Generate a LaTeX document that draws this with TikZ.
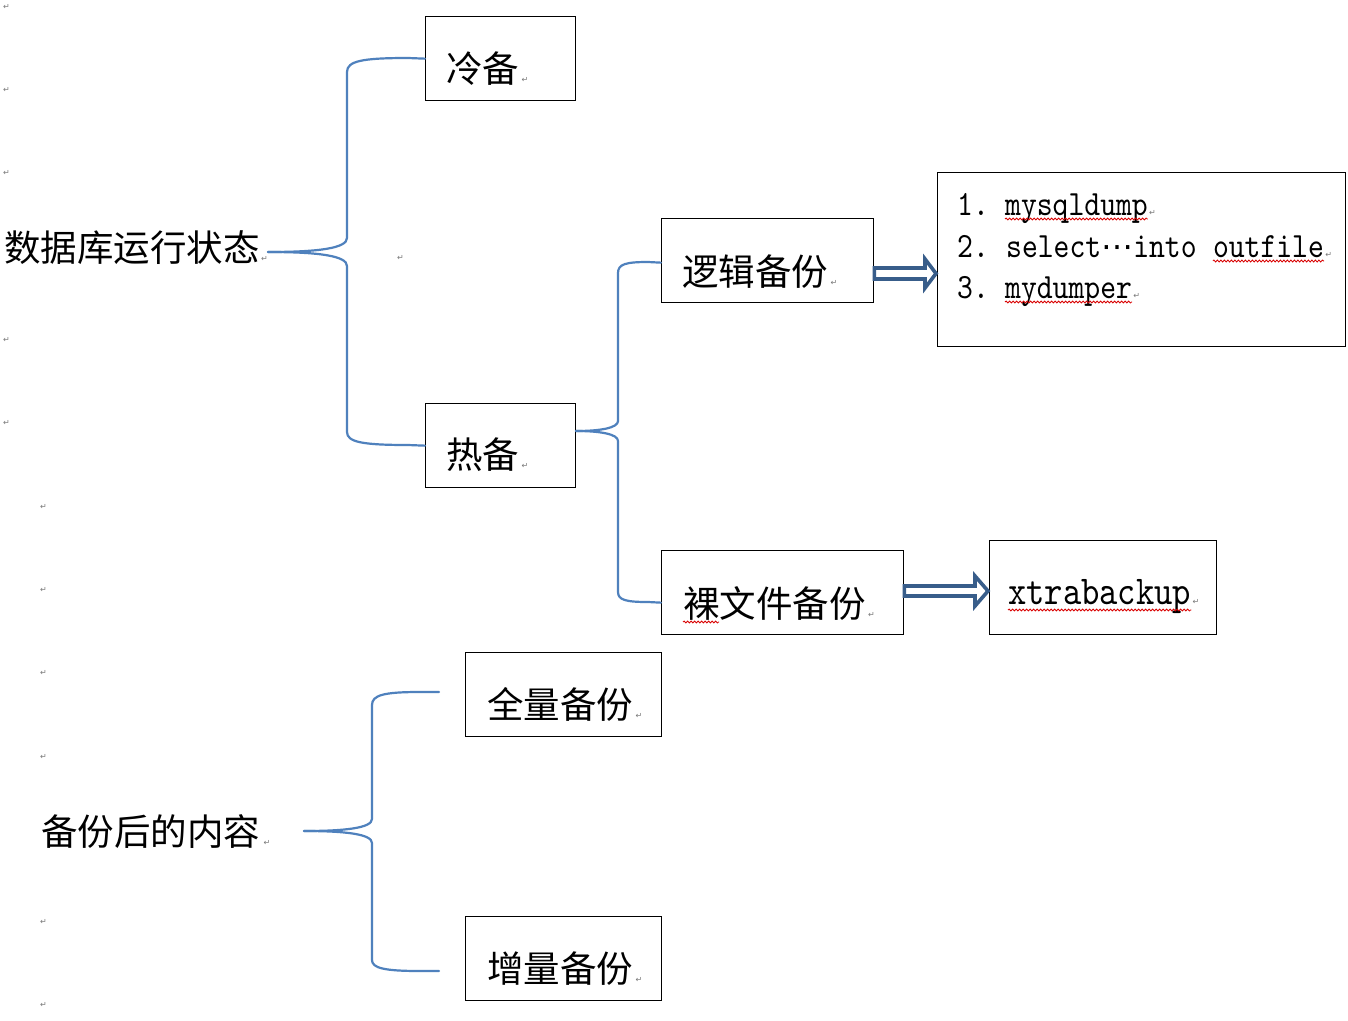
\documentclass[tikz,border=0pt]{standalone}
\usepackage{fontspec}
\newfontfamily\cjk{Noto Sans CJK SC}
\newfontfamily\djv{DejaVu Sans}
\newfontfamily\mono{lmmono10-regular}[Extension=.otf, FakeStretch=0.85]
\usetikzlibrary{calc,decorations.pathmorphing}
\definecolor{bracec}{RGB}{79,129,189}
\definecolor{arrowc}{RGB}{56,93,138}
\definecolor{pmc}{RGB}{120,120,120}
\begin{document}
\begin{tikzpicture}[x=1pt,y=-1pt,
  box/.style={draw=black, line width=1.3pt, inner sep=0pt, anchor=north west},
  cjktext/.style={inner sep=0pt, anchor=base west, font=\cjk\fontsize{36.5}{40}\selectfont},
  latin/.style={inner sep=0pt, anchor=base west, font=\mono\fontsize{35.5}{40}\selectfont},
  bigl/.style={inner sep=0pt, anchor=base west, font=\mono\fontsize{41}{46}\selectfont},
  pmark/.style={inner sep=0pt, anchor=base west, text=pmc, font=\djv\fontsize{8}{9}\selectfont},
  brace/.style={draw=bracec, line width=2.2pt, line cap=round, line join=round},
  blockarrow/.style={draw=arrowc, line width=3.6pt, fill=white, line join=miter},
  wavy/.style={draw=red!85!black, line width=0.8pt, decorate,
    decoration={snake, amplitude=1pt, segment length=3.5pt}}]
\fill[white] (0,0) rectangle (1348,1020);
\useasboundingbox (0,0) rectangle (1348,1020);

% boxes
\node[box, minimum width=150pt, minimum height=84pt] (cold) at (425,16) {};
\node[box, minimum width=150pt, minimum height=84pt] (hot) at (425,403) {};
\node[box, minimum width=212pt, minimum height=84pt] (lg) at (661,218) {};
\node[box, minimum width=242pt, minimum height=84pt] (raw) at (661,550) {};
\node[box, minimum width=408pt, minimum height=174pt] (list) at (937,172) {};
\node[box, minimum width=227pt, minimum height=94pt] (xtra) at (989,540) {};
\node[box, minimum width=196pt, minimum height=84pt] (full) at (465,652) {};
\node[box, minimum width=196pt, minimum height=84pt] (incr) at (465,916) {};

% texts
\node[cjktext] (tstate) at (4,261) {数据库运行状态};
\node[cjktext] (tcont) at (41,845) {备份后的内容};
\node[cjktext] (tcold) at (446,82) {冷备};
\node[cjktext] (thot) at (446,468) {热备};
\node[cjktext] (tlg) at (682,285) {逻辑备份};
\node[cjktext] (traw) at (683,617) {裸文件备份};
\node[cjktext] (tfull) at (487,718) {全量备份};
\node[cjktext] (tincr) at (487,982) {增量备份};
\node[bigl] (txtra) at (1008,604) {xtrabackup};

\node[latin] (n1) at (957,215) {1.};
\node[latin] (n2) at (957,257) {2.};
\node[latin] (n3) at (957,298) {3.};
\node[latin] (i1) at (1005,215) {mysqldump};
\node[latin] (i2a) at (1006,257) {select\makebox[32pt][c]{\djv\fontsize{32}{34}\selectfont ⋯}into};
\node[latin, anchor=base west] (i2b) at ([xshift=16pt]i2a.base east) {outfile};
\node[latin] (i3) at (1005,298) {mydumper};

% spelling underlines
\draw[wavy] ([yshift=-4pt]i1.base west) -- ([yshift=-4pt]i1.base east);
\draw[wavy] ([yshift=-4pt]i2b.base west) -- ([yshift=-4pt]i2b.base east);
\draw[wavy] ([yshift=-4pt]i3.base west) -- ([yshift=-4pt]i3.base east);
\draw[wavy] ([yshift=-6pt]txtra.base west) -- ([yshift=-6pt]txtra.base east);
\draw[wavy] ([yshift=-5pt]traw.base west) -- ([yshift=-5pt,xshift=36pt]traw.base west);

% paragraph marks after texts
\node[pmark] (p1) at ([xshift=1pt]tstate.base east) {↵};
\node[pmark] (p2) at ([xshift=3pt]tcont.base east) {↵};
\node[pmark] (p3) at ([xshift=2pt]tcold.base east) {↵};
\node[pmark] (p4) at ([xshift=2pt]thot.base east) {↵};
\node[pmark] (p5) at ([xshift=2pt]tlg.base east) {↵};
\node[pmark] (p6) at ([xshift=2pt]traw.base east) {↵};
\node[pmark] (p7) at ([xshift=2pt]tfull.base east) {↵};
\node[pmark] (p8) at ([xshift=2pt]tincr.base east) {↵};
\node[pmark] (p9) at ([xshift=1pt]i1.base east) {↵};
\node[pmark] (p10) at ([xshift=1pt]i2b.base east) {↵};
\node[pmark] (p11) at ([xshift=1pt]i3.base east) {↵};
\node[pmark] (p12) at ([xshift=1pt]txtra.base east) {↵};

% stray paragraph marks
\node[pmark] (q1) at (3,9) {↵};
\node[pmark] (q2) at (3,92) {↵};
\node[pmark] (q3) at (3,175) {↵};
\node[pmark] (q4) at (3,342) {↵};
\node[pmark] (q5) at (3,425) {↵};
\node[pmark] (q6) at (397,260) {↵};
\node[pmark] (q7) at (40,509) {↵};
\node[pmark] (q8) at (40,592) {↵};
\node[pmark] (q9) at (40,675) {↵};
\node[pmark] (q10) at (40,759) {↵};
\node[pmark] (q11) at (40,924) {↵};
\node[pmark] (q12) at (40,1007) {↵};

% braces
\coordinate (b1) at (268,252);
\draw[brace] (cold.west) -- (408,58) .. controls (362,58) and (347,61) .. (347,72)
  -- (347,238) .. controls (347,248) and (320,252) .. (b1);
\draw[brace] (b1) .. controls (320,252) and (347,256) .. (347,266)
  -- (347,432) .. controls (347,442) and (362,445) .. (408,445) -- (hot.west);

\coordinate (b2) at (576,431);
\draw[brace] ([yshift=-2pt]lg.west) -- (648,262) .. controls (626,262) and (618,264) .. (618,273)
  -- (618,421) .. controls (618,428) and (600,431) .. (b2);
\draw[brace] (b2) .. controls (600,431) and (618,434) .. (618,441)
  -- (618,592) .. controls (618,600) and (626,602) .. (648,602) -- ([yshift=-10pt]raw.west);

\coordinate (b3) at (304,831);
\coordinate (e3a) at (439,692);
\coordinate (e3b) at (439,971);
\draw[brace] (e3a) -- (420,692) .. controls (384,692) and (372,695) .. (372,705)
  -- (372,819) .. controls (372,828) and (345,831) .. (b3);
\draw[brace] (b3) .. controls (345,831) and (372,834) .. (372,843)
  -- (372,960) .. controls (372,968) and (384,971) .. (420,971) -- (e3b);

% block arrows
\coordinate (a1s) at (lg.east |- 0,273.5);
\coordinate (a1e) at (938,273.5);
\draw[blockarrow] ($(a1s)+(0,-5.5)$) -- ($(a1e)+(-13,-5.5)$) -- ($(a1e)+(-13,-14.5)$)
  -- ($(a1e)+(-2,0)$) -- ($(a1e)+(-13,14.5)$) -- ($(a1e)+(-13,5.5)$) -- ($(a1s)+(0,5.5)$) -- cycle;

\coordinate (a2s) at (raw.east |- 0,591);
\coordinate (a2e) at (990,591);
\draw[blockarrow] ($(a2s)+(0,-5)$) -- ($(a2e)+(-15,-5)$) -- ($(a2e)+(-15,-15)$)
  -- ($(a2e)+(-2,0)$) -- ($(a2e)+(-15,15)$) -- ($(a2e)+(-15,5)$) -- ($(a2s)+(0,5)$) -- cycle;
\end{tikzpicture}
\end{document}
